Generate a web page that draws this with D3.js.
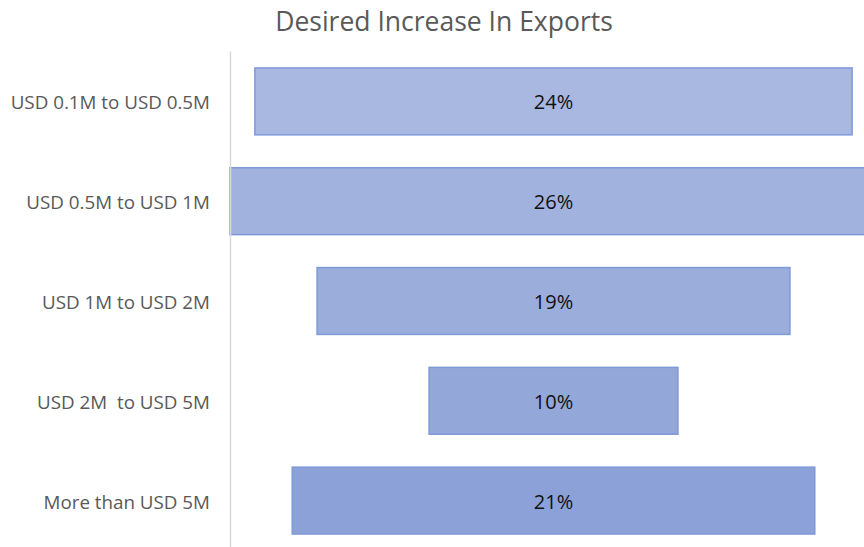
<!DOCTYPE html>
<html>
<head>
<meta charset="utf-8">
<script src="https://cdn.jsdelivr.net/npm/d3@7"></script>
<style>
  html, body { margin: 0; padding: 0; background: #fff; }
  svg { display: block; }
</style>
</head>
<body>
<svg id="chart" width="864" height="547"></svg>
<script>
// Export value bands and the share of respondents in each
const categories = ["USD 0.1M to USD 0.5M", "USD 0.5M to USD 1M", "USD 1M to USD 2M", "USD 2M  to USD 5M", "More than USD 5M"];
const values = [24, 26, 19, 10, 21];
const valueLabels = ["24%", "26%", "19%", "10%", "21%"];
const fills = ["#a9b8e1", "#a1b2de", "#9aaddb", "#93a7d9", "#8ba1d7"];
const chartTitle = "Desired Increase In Exports";

const W = 864, H = 547;
const margin = { top: 51, right: -13, bottom: -4, left: 230 };
const svg = d3.select("#chart");
const font = "'Open Sans', 'Noto Sans', sans-serif";

const maxV = d3.max(values);
// Bars are centred on zero: each spans -v/2 .. +v/2
const x = d3.scaleLinear()
  .domain([-maxV / 2, maxV / 2])
  .range([margin.left, W - margin.right]);

const y = d3.scaleBand()
  .domain(categories)
  .range([margin.top, H - margin.bottom])
  .paddingInner(0.33)
  .paddingOuter(0.17);

// Title
svg.append("text")
  .attr("x", 444)
  .attr("y", 31)
  .attr("text-anchor", "middle")
  .attr("font-family", font)
  .attr("font-size", 26.5)
  .attr("fill", "#595959")
  .text(chartTitle);

// Bars
const plot = svg.append("g");
plot.selectAll("rect")
  .data(values)
  .join("rect")
  .attr("x", d => x(-d / 2))
  .attr("y", (d, i) => y(categories[i]))
  .attr("width", d => x(d / 2) - x(-d / 2))
  .attr("height", y.bandwidth())
  .attr("fill", (d, i) => fills[i])
  .attr("stroke", "#7e99d8")
  .attr("stroke-width", 1.5);

// Value labels inside bars
plot.selectAll("text.val")
  .data(values)
  .join("text")
  .attr("class", "val")
  .attr("x", x(0))
  .attr("y", (d, i) => y(categories[i]) + y.bandwidth() / 2 + 1)
  .attr("dy", "0.35em")
  .attr("text-anchor", "middle")
  .attr("font-family", font)
  .attr("font-size", 20)
  .attr("fill", "#111")
  .text((d, i) => valueLabels[i]);

// Category axis on the left
const axis = d3.axisLeft(y).tickSize(0).tickPadding(20);
const gAxis = svg.append("g")
  .attr("transform", `translate(${margin.left},0)`)
  .call(axis);
gAxis.select(".domain")
  .attr("stroke", "#d9d9d9")
  .attr("stroke-width", 1.5);
gAxis.selectAll("text")
  .attr("font-family", font)
  .attr("font-size", 18.8)
  .attr("fill", "#595959")
  .attr("dy", "0.42em")
  .style("white-space", "pre");
gAxis.raise();
</script>
</body>
</html>
